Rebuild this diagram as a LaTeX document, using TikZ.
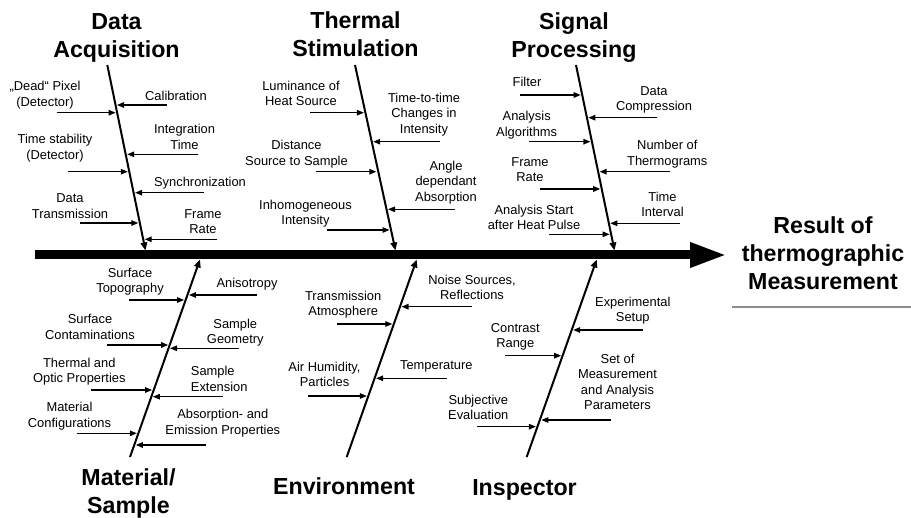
\documentclass[tikz,border=0pt]{standalone}
\usepackage{fontspec}
\setmainfont{Liberation Sans}
\usetikzlibrary{arrows.meta}
\tikzset{
  cause/.style={line width=1.3pt, -{Triangle[length=7pt,width=5.5pt]}},
  bone/.style={line width=2pt, -{Triangle[length=8pt,width=6.5pt]}},
  spine/.style={line width=9pt, -{Triangle[length=37pt,width=23pt]}},
  lbl/.style={font=\fontsize{12.9}{15.5}\selectfont, align=center, inner sep=0pt},
  ttl/.style={font=\fontsize{23.2}{28}\selectfont\bfseries, align=center, inner sep=0pt},
}
\newcommand\causearr[4]{%
  \coordinate (#1s) at (#2,#4);
  \coordinate (#1e) at (#3,#4);
  \draw[cause] (#1s) -- (#1e);}
\begin{document}
\begin{tikzpicture}[x=1pt,y=-1pt]
\useasboundingbox[fill=white] (0,0) rectangle (911,518);

% spine
\coordinate (spL) at (35,255);
\coordinate (spR) at (727,255);
\draw[spine] (spL) -- (spR);

% result
\node[ttl] (result) at (823,253) {Result of\\thermographic\\Measurement};
\coordinate (glL) at (732,306.7);
\coordinate (glR) at (911,306.7);
\draw[line width=2pt, black!45] (glL) -- (glR);

% titles
\node[ttl] (tDA) at (116.5,37.5) {Data\\Acquisition};
\node[ttl] (tTS) at (355.5,34) {Thermal\\Stimulation};
\node[ttl] (tSP) at (574,37.5) {Signal\\Processing};
\node[ttl] (tMS) at (128.5,493.3) {Material/\\Sample};
\node[ttl] (tEN) at (344,486) {Environment};
\node[ttl] (tIN) at (524.5,489.8) {Inspector};

% main bones
\coordinate (daT) at (107.3,65);   \coordinate (daB) at (145.5,250.5);
\coordinate (tsT) at (355,65);     \coordinate (tsB) at (395.5,250.5);
\coordinate (spT) at (576,65);     \coordinate (spB) at (614.5,250.5);
\coordinate (msB) at (130,457);    \coordinate (msT) at (200,259.5);
\coordinate (enB) at (346.7,457);  \coordinate (enT) at (416.7,259.5);
\coordinate (inB) at (526.7,457);  \coordinate (inT) at (596.7,259.5);
\draw[bone] (daT) -- (daB);
\draw[bone] (tsT) -- (tsB);
\draw[bone] (spT) -- (spB);
\draw[bone] (msB) -- (msT);
\draw[bone] (enB) -- (enT);
\draw[bone] (inB) -- (inT);

% Data Acquisition
\causearr{aDead}{56.7}{115.6}{112.7}
\causearr{aTime}{68}{127.8}{171.7}
\causearr{aDT}{80}{138.3}{223}
\causearr{aCal}{166.7}{117}{105}
\causearr{aInt}{198}{127.2}{154.3}
\causearr{aSync}{204}{135.1}{192.7}
\causearr{aFRa}{216.7}{144.7}{239.3}
\node[lbl] (lDead) at (45,95) {„Dead“ Pixel\\(Detector)};
\node[lbl] (lTime) at (55,148) {Time stability\\(Detector)};
\node[lbl] (lDT) at (70,206) {Data\\Transmission};
\node[lbl] (lCal) at (176,96) {Calibration};
\node[lbl] (lInt) at (184.5,137) {Integration\\Time};
\node[lbl] (lSync) at (200,183.3) {Synchronization};
\node[lbl] (lFRa) at (203,221.5) {Frame\\Rate};

% Thermal Stimulation
\causearr{aLum}{310}{363.9}{112.7}
\causearr{aDist}{316}{376.3}{171.7}
\causearr{aInh}{326.7}{389.5}{230}
\causearr{aTtT}{440}{373.2}{141.7}
\causearr{aAng}{455}{388}{209.3}
\node[lbl] (lLum) at (301,93.5) {Luminance of\\Heat Source};
\node[lbl] (lDist) at (296.5,154) {Distance\\Source to Sample};
\node[lbl] (lInh) at (305.5,213.8) {Inhomogeneous\\Intensity};
\node[lbl] (lTtT) at (424,114.3) {Time-to-time\\Changes in\\Intensity};
\node[lbl] (lAng) at (446,182.3) {Angle\\dependant\\Absorption};

% Signal Processing
\causearr{aFil}{520}{580.7}{95}
\causearr{aAlg}{529.3}{590.4}{141.7}
\causearr{aFRb}{540}{600.2}{189}
\causearr{aStart}{549.3}{609.6}{234.3}
\causearr{aComp}{657.3}{588.4}{117.7}
\causearr{aNum}{670}{599.6}{171.7}
\causearr{aTI}{680}{610.3}{223.3}
\node[lbl] (lFil) at (527,81.7) {Filter};
\node[lbl] (lAlg) at (526.7,125.2) {Analysis\\Algorithms};
\node[lbl] (lFRb) at (530,169.7) {Frame\\Rate};
\node[lbl] (lStart) at (534,217.2) {Analysis Start\\after Heat Pulse};
\node[lbl] (lComp) at (654,100) {Data\\Compression};
\node[lbl] (lNum) at (667.3,154.2) {Number of\\Thermograms};
\node[lbl] (lTI) at (662.5,204.5) {Time\\Interval};

% Material / Sample
\causearr{aTopo}{129.3}{184.1}{300}
\causearr{aCont}{106.7}{168.2}{345}
\causearr{aTherm}{90.7}{152.2}{390}
\causearr{aConf}{76.7}{136.9}{433.3}
\causearr{aAniso}{257.3}{188.9}{295}
\causearr{aGeo}{239.3}{170}{348.3}
\causearr{aExt}{222.7}{152.9}{396.7}
\causearr{aAbs}{206}{135.8}{445}
\node[lbl] (lTopo) at (130,281.8) {Surface\\Topography};
\node[lbl] (lCont) at (90,326.7) {Surface\\Contaminations};
\node[lbl] (lTherm) at (79.3,371.5) {Thermal and\\Optic Properties};
\node[lbl] (lConf) at (69.5,416.3) {Material\\Configurations};
\node[lbl] (lAniso) at (247,284) {Anisotropy};
\node[lbl] (lGeo) at (235.3,332.6) {Sample\\Geometry};
\node[lbl,anchor=west,align=left] (lExt) at (190.7,378.7) {Sample\\Extension};
\node[lbl] (lAbs) at (222.8,423) {Absorption- and\\Emission Properties};

% Environment
\causearr{aTrans}{336.7}{392.3}{324}
\causearr{aAir}{308.3}{366.8}{396}
\causearr{aNoise}{471.7}{401.5}{306.7}
\causearr{aTemp}{446.7}{376.1}{378.3}
\node[lbl] (lTrans) at (343.2,304.7) {Transmission\\Atmosphere};
\node[lbl] (lAir) at (324.5,374.2) {Air Humidity,\\Particles};
\node[lbl] (lNoise) at (472,287.2) {Noise Sources,\\Reflections};
\node[lbl] (lTemp) at (436.3,366.3) {Temperature};

% Inspector
\causearr{aCon}{505}{561.1}{355.7}
\causearr{aSubj}{477.3}{535.9}{426.7}
\causearr{aExp}{642.7}{573.2}{330}
\causearr{aSet}{610.7}{541.3}{420}
\node[lbl] (lCon) at (515.3,337) {Contrast\\Range};
\node[lbl] (lSubj) at (478.3,407.5) {Subjective\\Evaluation};
\node[lbl] (lExp) at (632.8,310.5) {Experimental\\Setup};
\node[lbl] (lSet) at (617.5,381.7) {Set of\\Measurement\\and Analysis\\Parameters};
\end{tikzpicture}
\end{document}
